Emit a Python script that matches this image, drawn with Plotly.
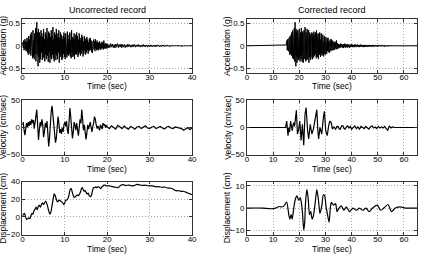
import numpy as np
import plotly.graph_objects as go

# ---------------- data ----------------
# Uncorrected acceleration (g): strong part 0-20 s (0.1 s step), tail 20-40 s
acc_strong = [
    0.02, 0.08, -0.05, 0.12, -0.10, 0.06, 0.15, -0.08, 0.10, -0.12,
    0.05, 0.18, -0.15, 0.10, -0.20, 0.22, -0.08, 0.14, -0.18, 0.25,
    -0.22, 0.30, -0.10, 0.20, -0.28, 0.35, -0.25, 0.12, -0.30, 0.28,
    -0.18, 0.40, -0.35, 0.25, 0.53, -0.20, 0.30, -0.46, 0.38, -0.25,
    0.30, -0.38, 0.22, -0.30, 0.35, -0.15, 0.28, -0.32, 0.20, -0.25,
    0.38, -0.28, 0.15, -0.35, 0.30, -0.20, 0.25, -0.30, 0.40, -0.22,
    0.18, -0.36, 0.32, -0.15, 0.28, -0.38, 0.20, -0.25, 0.35, -0.30,
    0.22, -0.20, 0.42, -0.28, 0.15, -0.35, 0.30, -0.18, 0.25, -0.32,
    0.38, -0.22, 0.20, -0.30, 0.28, -0.15, 0.35, -0.38, 0.18, -0.25,
    0.30, -0.20, 0.25, -0.32, 0.15, -0.28, 0.22, -0.18, 0.30, -0.25,
    0.20, -0.30, 0.28, -0.12, 0.18, -0.26, 0.32, -0.20, 0.15, -0.22,
    0.25, -0.18, 0.30, -0.24, 0.12, -0.28, 0.35, -0.15, 0.20, -0.25,
    0.18, -0.22, 0.28, -0.30, 0.15, -0.18, 0.25, -0.20, 0.30, -0.16,
    0.22, -0.25, 0.14, -0.20, 0.28, -0.15, 0.18, -0.22, 0.12, -0.18,
    0.25, -0.12, 0.20, -0.24, 0.10, -0.18, 0.22, -0.10, 0.16, -0.20,
    0.12, -0.15, 0.20, -0.10, 0.14, -0.18, 0.08, -0.12, 0.16, -0.10,
    0.18, -0.08, 0.12, -0.14, 0.10, -0.16, 0.06, -0.10, 0.14, -0.08,
    0.10, -0.12, 0.15, -0.06, 0.08, -0.10, 0.12, -0.08, 0.06, -0.10,
    0.08, -0.06, 0.10, -0.08, 0.05, -0.09, 0.07, -0.05, 0.09, -0.06,
    0.06, -0.08, 0.12, -0.05, 0.04, -0.07, 0.06, -0.04, 0.05, -0.06,
]
acc_tail = [
    0.04, -0.05, 0.03, -0.04, 0.05, -0.03, 0.04, -0.04, 0.03, -0.05, 0.04, -0.03, 0.05, -0.04, 0.03, -0.03, 0.04, -0.04, 0.03, -0.03,
    0.03, -0.04, 0.02, -0.03, 0.04, -0.02, 0.03, -0.03, 0.02, -0.03, 0.03, -0.02, 0.03, -0.03, 0.02, -0.02, 0.03, -0.02, 0.02, -0.03,
    0.02, -0.02, 0.03, -0.02, 0.02, -0.02, 0.02, -0.03, 0.02, -0.02, 0.02, -0.02, 0.02, -0.02, 0.01, -0.02, 0.02, -0.02, 0.02, -0.01,
    0.02, -0.02, 0.01, -0.02, 0.02, -0.01, 0.02, -0.02, 0.01, -0.01, 0.02, -0.01, 0.01, -0.02, 0.01, -0.01, 0.02, -0.01, 0.01, -0.01,
    0.01, -0.01, 0.02, -0.01, 0.01, -0.01, 0.01, -0.02, 0.01, -0.01, 0.01, -0.01, 0.01, -0.01, 0.01, -0.01, 0.01, -0.01, 0.01, 0.0,
]
# Corrected record: same acceleration, padded with quiet time
pad_before_sec = 15.0
record_end_sec = 65.0

# Uncorrected velocity (cm/sec): 0-20 s (0.2 s step), tail 20.5-40 s (0.5 s step)
vel_strong = [
    5, 10, -5, -14, -2, 8, 0, 10, 3, 12,
    5, 15, 8, 14, -2, 10, 20, 33, 5, -23,
    -5, 10, 2, 15, 5, -18, -8, 8, 0, 12,
    -10, -35, -20, 10, 30, 40, 25, 0, -12, -28,
    -20, 5, 20, 8, -10, -3, -12, 0, -8, 5,
    10, 2, 12, -5, -12, 10, 36, 20, -5, -20,
    -8, 10, 5, -5, 8, -8, -15, 0, 15, 8,
    33, 15, -5, 5, -10, -22, -10, 5, -3, 2,
    10, 0, -8, 2, 8, 20, 15, 5, -2, 3,
    0, -5, 5, 2, -3, 8, 4, 6, 0, 4,
    1,
]
vel_tail = [
    -2, 3, 0, -3, 4, 1, -2, 3, -1, -3,
    2, 0, -3, 1, 2, -2, 0, 3, -1, -2,
    1, 2, -2, 0, 2, -1, -3, 1, 2, -1,
    -2, 1, 0, -1, -2, -5, -3, 0, -4, 0,
]

# Uncorrected displacement (cm): 0-20 s (0.25 s step), tail 20.5-40 s (0.5 s step)
disp_strong = [
    0, 3, 4, 0, -3, -2, -1, -2, 1, 4,
    3, 7, 9, 11, 8, 12, 13, 11, 14, 16,
    14, 16, 18, 15, 11, 6, 3, 6, 13, 20,
    26, 24, 20, 17, 18, 19, 18, 17, 16, 14,
    16, 19, 19, 21, 25, 31, 32, 28, 24, 22,
    23, 24, 25, 24, 26, 29, 33, 32, 29, 30,
    28, 26, 27, 24, 23, 24, 29, 33, 33, 34,
    33, 34, 34, 33, 32, 34, 35, 36, 36, 35,
    35,
]
disp_tail = [
    35, 34.5, 34, 33.5, 33, 35, 36.5, 36, 35.5, 36,
    35.5, 35, 35.8, 36.8, 36.3, 35.8, 35.6, 35.9, 35.2, 35,
    35.3, 34.6, 34, 34.3, 33.8, 33.5, 33.8, 33, 32.6, 32.4,
    31.5, 30, 29.5, 29.6, 28.8, 29, 28, 27, 26, 25,
]

# Corrected velocity (cm/sec)
t_vel_cor = [
    0, 14.8, 15.2, 15.7, 16.0, 16.3, 16.7, 17.0, 17.3, 17.6,
    17.9, 18.2, 18.5, 18.9, 19.3, 19.8, 20.2, 20.7, 21.2, 21.7,
    22.2, 22.6, 23.2, 23.6, 24.2, 24.8, 25.4, 25.8, 26.1, 26.7,
    27.1, 27.4, 27.9, 28.2, 28.6, 29.2, 29.6, 30.1, 30.7, 31.2,
    31.7, 32.2, 32.7, 33.2, 33.9, 34.4, 34.8, 35.3, 35.7, 36.2,
    36.7, 37.1, 37.5, 38.0, 38.5, 39.0, 39.5, 40.0, 40.6, 41.2,
    41.8, 42.4, 43.0, 43.6, 44.2, 44.8, 45.4, 46.0, 46.6, 47.2,
    47.8, 48.4, 49.0, 49.6, 50.2, 50.8, 51.4, 52.0, 52.6, 53.2,
    53.8, 54.4, 55.0, 55.6, 56.5, 65,
]
vel_cor = [
    0, 0, 12, -15, 0, -8, 12, 2, -6, 4,
    9, 2, 18, 32, -12, -3, 12, -24, 6, -33,
    24, 37, -6, -21, 6, -12, -3, 8, 21, 33,
    -6, -21, 0, -5, -12, 18, 30, -6, -15, 3,
    12, 9, -3, 1, -3, 2, 2, -3, -3, 3,
    3, -2, -3, 1, 3, -1, 2, -3, 1, 3,
    -2, 1, -3, 2, 0, -2, 2, -1, -3, 1,
    3, -1, 1, -2, 2, -1, 1, -1, 2, -2,
    -5, 3, -1, 1, 0, 0,
]

# Corrected displacement (cm)
t_disp_cor = [
    0, 6, 9, 11, 12.3, 13.2, 14.2, 15.2, 16.0, 16.4,
    16.9, 17.3, 17.9, 18.5, 19.1, 19.8, 20.4, 20.8, 21.2, 21.7,
    22.1, 22.4, 22.9, 23.4, 23.9, 24.4, 24.9, 25.4, 26.1, 26.7,
    27.3, 27.9, 28.6, 29.2, 29.7, 30.2, 30.8, 31.4, 31.9, 32.3,
    33.1, 33.9, 34.4, 35.2, 36.1, 37.0, 38.0, 39.2, 40.5, 41.7,
    43.0, 44.2, 45.5, 46.7, 48.0, 49.8, 51.1, 52.3, 53.9, 55.2,
    56.7, 58.6, 60.5, 65,
]
disp_cor = [
    0, 0, -0.3, 0, 0.7, 0.5, 1.0, 2.7, -3, -5,
    -3, -5, 0, 4, 5.5, 3.6, 4.6, 2.5, -1.7, -10,
    -6, 2.7, 8.3, 4.5, -3, -1.5, -5, -3.5, 2.5, 8.3,
    4, -2.4, 1, 6, 5.6, 1, -3, -6.5, 0.5, 2.6,
    1.3, 2, -1.6, 0, 1, -1, 0.5, -1.6, 0, -1,
    0, -1, 0, -1.6, 0, 1.3, -1, 0, 1.6, -1.6,
    0, 0.5, 0, 0,
]

col_titles = ["Uncorrected record", "Corrected record"]
row_ytitles = ["Acceleration (g)", "Velocity (cm/sec)", "Displacement (cm)"]
x_title = "Time (sec)"

# ---------------- build series ----------------
t_acc = np.concatenate([np.arange(len(acc_strong)) * 0.1,
                        np.linspace(20, 40, len(acc_tail))])
y_acc = np.array(acc_strong + acc_tail)
t_acc_cor = np.concatenate([[0.0], t_acc + pad_before_sec, [record_end_sec]])
y_acc_cor = np.concatenate([[0.0], y_acc, [0.0]])

t_vel = np.concatenate([np.linspace(0, 20, len(vel_strong)),
                        np.linspace(20.5, 40, len(vel_tail))])
y_vel = np.array(vel_strong + vel_tail, dtype=float)

t_disp = np.concatenate([np.linspace(0, 20, len(disp_strong)),
                         np.linspace(20.5, 40, len(disp_tail))])
y_disp = np.array(disp_strong + disp_tail, dtype=float)

series = [
    (t_acc, y_acc, 1.0, "linear"),
    (t_acc_cor, y_acc_cor, 1.0, "linear"),
    (t_vel, y_vel, 1.2, "linear"),
    (np.array(t_vel_cor), np.array(vel_cor, dtype=float), 1.2, "linear"),
    (t_disp, y_disp, 1.2, "spline"),
    (np.array(t_disp_cor), np.array(disp_cor, dtype=float), 1.2, "spline"),
]

# ---------------- layout ----------------
W, H = 426, 256
col_px = [(20.7, 193.3), (249.0, 422.0)]
row_px = [(15.7, 71.0), (100.0, 156.0), (184.0, 239.0)]
x_ranges = [[0, 40], [0, 65]]
x_ticks = [[0, 10, 20, 30, 40], [0, 10, 20, 30, 40, 50, 60]]
y_ranges = [[[-0.6, 0.6], [-0.6, 0.6]], [[-50, 50], [-50, 50]], [[-20, 40], [-12, 12]]]
y_ticks = [[[-0.5, 0, 0.5], [-0.5, 0, 0.5]], [[-50, 0, 50], [-50, 0, 50]],
           [[-20, 0, 20, 40], [-10, 0, 10]]]

FONT = "Liberation Sans, Arial, Helvetica, sans-serif"
fig = go.Figure()
layout = dict(width=W, height=H, margin=dict(l=0, r=0, t=0, b=0),
              paper_bgcolor="white", plot_bgcolor="white", showlegend=False,
              font=dict(family=FONT, size=8, color="black"))
annotations = []

common = dict(showline=True, linecolor="#333", linewidth=0.8, mirror="allticks",
              ticks="inside", ticklen=3, tickcolor="#333", tickwidth=0.8,
              showgrid=True, gridcolor="#a8a8a8", griddash="1px,2px", gridwidth=0.8,
              zeroline=False, tickfont=dict(family=FONT, size=8, color="black"),
              fixedrange=True)

for i, (tx, ty, lw, shape) in enumerate(series):
    r, c = divmod(i, 2)
    n = i + 1
    xa = "x" if n == 1 else f"x{n}"
    ya = "y" if n == 1 else f"y{n}"
    fig.add_trace(go.Scatter(x=tx, y=ty, mode="lines", xaxis=xa, yaxis=ya,
                             line=dict(color="black", width=lw, shape=shape,
                                       smoothing=0.6 if shape == "spline" else None),
                             hoverinfo="skip"))
    x0, x1 = col_px[c]
    top, bot = row_px[r]
    layout["xaxis" if n == 1 else f"xaxis{n}"] = dict(
        common, domain=[x0 / W, x1 / W], range=x_ranges[c], tickvals=x_ticks[c],
        anchor=ya, ticklabelstandoff=-3)
    layout["yaxis" if n == 1 else f"yaxis{n}"] = dict(
        common, domain=[1 - bot / H, 1 - top / H], range=y_ranges[r][c],
        tickvals=y_ticks[r][c], anchor=xa)
    # x title
    annotations.append(dict(text=x_title, xref="paper", yref="paper",
                            x=(x0 + x1) / 2 / W, y=1 - (bot + 14.5) / H,
                            xanchor="center", yanchor="middle", showarrow=False,
                            font=dict(family=FONT, size=8.5, color="black")))
    # y title
    annotations.append(dict(text=row_ytitles[r], xref="paper", yref="paper",
                            x=(x0 - 20) / W, y=1 - (top + bot) / 2 / H,
                            xanchor="center", yanchor="middle", textangle=-90,
                            showarrow=False,
                            font=dict(family=FONT, size=8.5, color="black")))

for c in range(2):
    x0, x1 = col_px[c]
    annotations.append(dict(text=col_titles[c], xref="paper", yref="paper",
                            x=(x0 + x1) / 2 / W, y=1 - 6.7 / H,
                            xanchor="center", yanchor="middle", showarrow=False,
                            font=dict(family=FONT, size=9, color="black")))

layout["annotations"] = annotations
fig.update_layout(**layout)
fig.write_html("out.html")
